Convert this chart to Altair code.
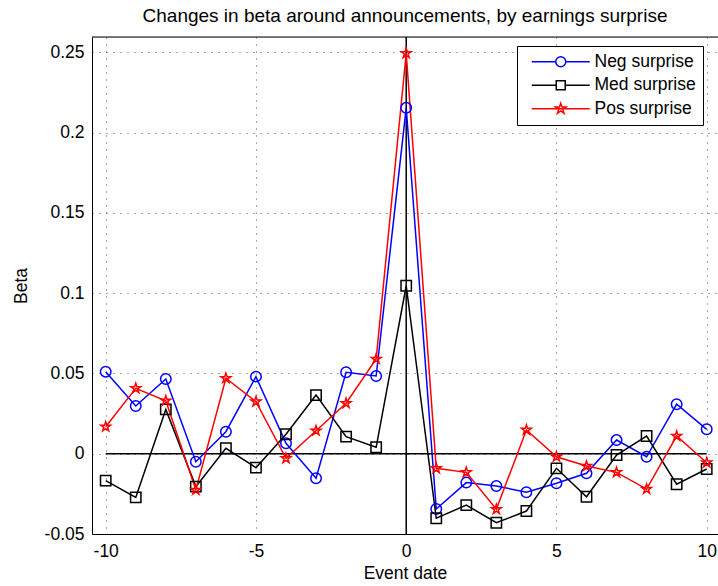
import altair as alt
import pandas as pd

# ---- data ----
event = list(range(-10, 11))
series_names = ["Neg surprise", "Med surprise", "Pos surprise"]
series_colors = ["#0000ff", "#000000", "#ff0000"]
neg = [0.0511, 0.0297, 0.0465, -0.0050, 0.0137, 0.0480, 0.0065, -0.0153, 0.0507, 0.0484,
       0.2154, -0.0344, -0.0180, -0.0201, -0.0240, -0.0184, -0.0122, 0.0085, -0.0019, 0.0308, 0.0152]
med = [-0.0168, -0.0272, 0.0276, -0.0205, 0.0034, -0.0087, 0.0121, 0.0365, 0.0106, 0.0040,
       0.1046, -0.0402, -0.0320, -0.0430, -0.0357, -0.0091, -0.0268, -0.0008, 0.0110, -0.0190, -0.0095]
pos = [0.0168, 0.0407, 0.0330, -0.0226, 0.0470, 0.0324, -0.0029, 0.0143, 0.0314, 0.0590,
       0.2493, -0.0091, -0.0116, -0.0346, 0.0148, -0.0019, -0.0077, -0.0116, -0.0220, 0.0110, -0.0056]
x_ticks = [-10, -5, 0, 5, 10]
y_ticks = [-0.05, 0, 0.05, 0.1, 0.15, 0.2, 0.25]

rows = []
for k, (name, vals) in enumerate(zip(series_names, [neg, med, pos])):
    for e, v in zip(event, vals):
        rows.append({"event": e, "series": name, "beta": v, "order": k})
df = pd.DataFrame(rows)

FONT = "Liberation Sans"
FS = 17.5

# unit star outline (outer radius 1)
STAR_PTS = [(0, -1), (0.2245, -0.309), (0.9511, -0.309), (0.3633, 0.118), (0.5878, 0.809),
            (0, 0.382), (-0.5878, 0.809), (-0.3633, 0.118), (-0.9511, -0.309), (-0.2245, -0.309)]


def poly(pts, scale=1.0, dx=0.0):
    s = "M" + "L".join(f"{x * scale + dx:.4f},{y * scale:.4f}" for x, y in pts)
    return s + "Z"


STAR = poly(STAR_PTS)
plot_shapes = ["circle", "square", STAR]
plot_sizes = [110, 105, 190]

# legend symbols: a line with the marker in its middle (path units: 7 px)
DX = 4.0       # horizontal shift of the symbol inside the legend row
HL = 4.143     # half length of the legend line
RC = 0.714     # circle radius
HS = 0.643     # half side of the square
leg_circle = (f"M{-HL + DX:.3f},0L{-RC + DX:.3f},0M{RC + DX:.3f},0L{HL + DX:.3f},0"
              f"M{-RC + DX:.3f},0A{RC},{RC} 0 1,1 {RC + DX:.3f},0A{RC},{RC} 0 1,1 {-RC + DX:.3f},0")
leg_square = (f"M{-HL + DX:.3f},0L{-HS + DX:.3f},0M{HS + DX:.3f},0L{HL + DX:.3f},0"
              + poly([(-HS, -HS), (HS, -HS), (HS, HS), (-HS, HS)], 1.0, DX))
leg_star = f"M{-HL + DX:.3f},0L{HL + DX:.3f},0" + poly(STAR_PTS, 0.8, DX)
legend_shapes = [leg_circle, leg_square, leg_star]

x_scale = alt.Scale(domain=[-10.456, 10.376], nice=False, zero=False)
y_scale = alt.Scale(domain=[-0.05, 0.2595], nice=False, zero=False)

MINUS_FIX = "replace(datum.label, '\u2212', '-')"

x_enc = alt.X("event:Q", scale=x_scale, title="Event date",
              axis=alt.Axis(values=x_ticks, format="d", grid=True, ticks=False, tickSize=0,
                            labelExpr=MINUS_FIX,
                            labelPadding=8, titlePadding=5, domainColor="black",
                            labelFont=FONT, labelFontSize=FS, labelColor="black",
                            titleFont=FONT, titleFontSize=FS, titleFontWeight="normal",
                            titleColor="black", gridColor="#555555", gridDash=[1, 6],
                            labelFlush=False))
y_enc = alt.Y("beta:Q", scale=y_scale, title="Beta",
              axis=alt.Axis(values=y_ticks, format="~g", grid=True, ticks=False, tickSize=0,
                            labelExpr=MINUS_FIX,
                            labelPadding=8, titlePadding=14, domainColor="black",
                            labelFont=FONT, labelFontSize=FS, labelColor="black",
                            titleFont=FONT, titleFontSize=FS, titleFontWeight="normal",
                            titleColor="black", gridColor="#555555", gridDash=[1, 6],
                            labelFlush=False))

color_plot = alt.Color("series:N", scale=alt.Scale(domain=series_names, range=series_colors),
                       legend=None)

base = alt.Chart(df)

lines = base.mark_line(strokeWidth=1.5).encode(
    x=x_enc, y=y_enc, color=color_plot, detail="series:N", order="event:Q"
)

points = base.mark_point(filled=False, strokeWidth=1.5, opacity=1).encode(
    x="event:Q", y="beta:Q", color=color_plot,
    shape=alt.Shape("series:N", scale=alt.Scale(domain=series_names, range=plot_shapes), legend=None),
    size=alt.Size("series:N", scale=alt.Scale(domain=series_names, range=plot_sizes), legend=None),
    order="order:Q",
)

# zero reference lines
zero_df = pd.DataFrame({"x0": [min(event)], "x1": [max(event)], "y": [0.0], "xv": [0.0]})
hline = alt.Chart(zero_df).mark_rule(color="black", strokeWidth=1.5).encode(
    x="x0:Q", x2="x1:Q", y="y:Q")
vline = alt.Chart(zero_df).mark_rule(color="black", strokeWidth=1.5).encode(x="xv:Q")

# top frame line
top_border = alt.Chart(zero_df).mark_rule(color="black", strokeWidth=1).encode(y=alt.value(0))

legend_props = dict(
    title=None, orient="none", legendX=425, legendY=9,
    strokeColor="black", fillColor="white", padding=7,
    labelFont=FONT, labelFontSize=FS, labelColor="black",
    labelOffset=53, rowPadding=4.5, symbolSize=196, symbolStrokeWidth=1.5,
    labelExpr="datum.label + '  '",
    cornerRadius=0,
)

# legend layer (no visible marks)
legend_layer = base.transform_filter("datum.event > 1000").mark_point(
    filled=False, strokeWidth=1.5, size=196, opacity=1
).encode(
    x="event:Q", y="beta:Q",
    color=alt.Color("series:N", scale=alt.Scale(domain=series_names, range=series_colors),
                    legend=alt.Legend(**legend_props)),
    shape=alt.Shape("series:N", scale=alt.Scale(domain=series_names, range=legend_shapes),
                    legend=alt.Legend(**legend_props)),
)

chart = alt.layer(hline, vline, lines, points, top_border, legend_layer).resolve_scale(
    color="independent", shape="independent"
).properties(
    width=626, height=497,
    title=alt.Title("Changes in beta around announcements, by earnings surprise",
                    font=FONT, fontSize=19, fontWeight="normal", color="black",
                    anchor="middle", offset=10),
    autosize=alt.AutoSizeParams(type="none"),
    padding={"left": 92, "top": 37, "right": 0, "bottom": 52},
).configure_view(stroke=None).configure(background="white")

chart.save("out.html", embed_options={"renderer": "svg", "actions": False})
